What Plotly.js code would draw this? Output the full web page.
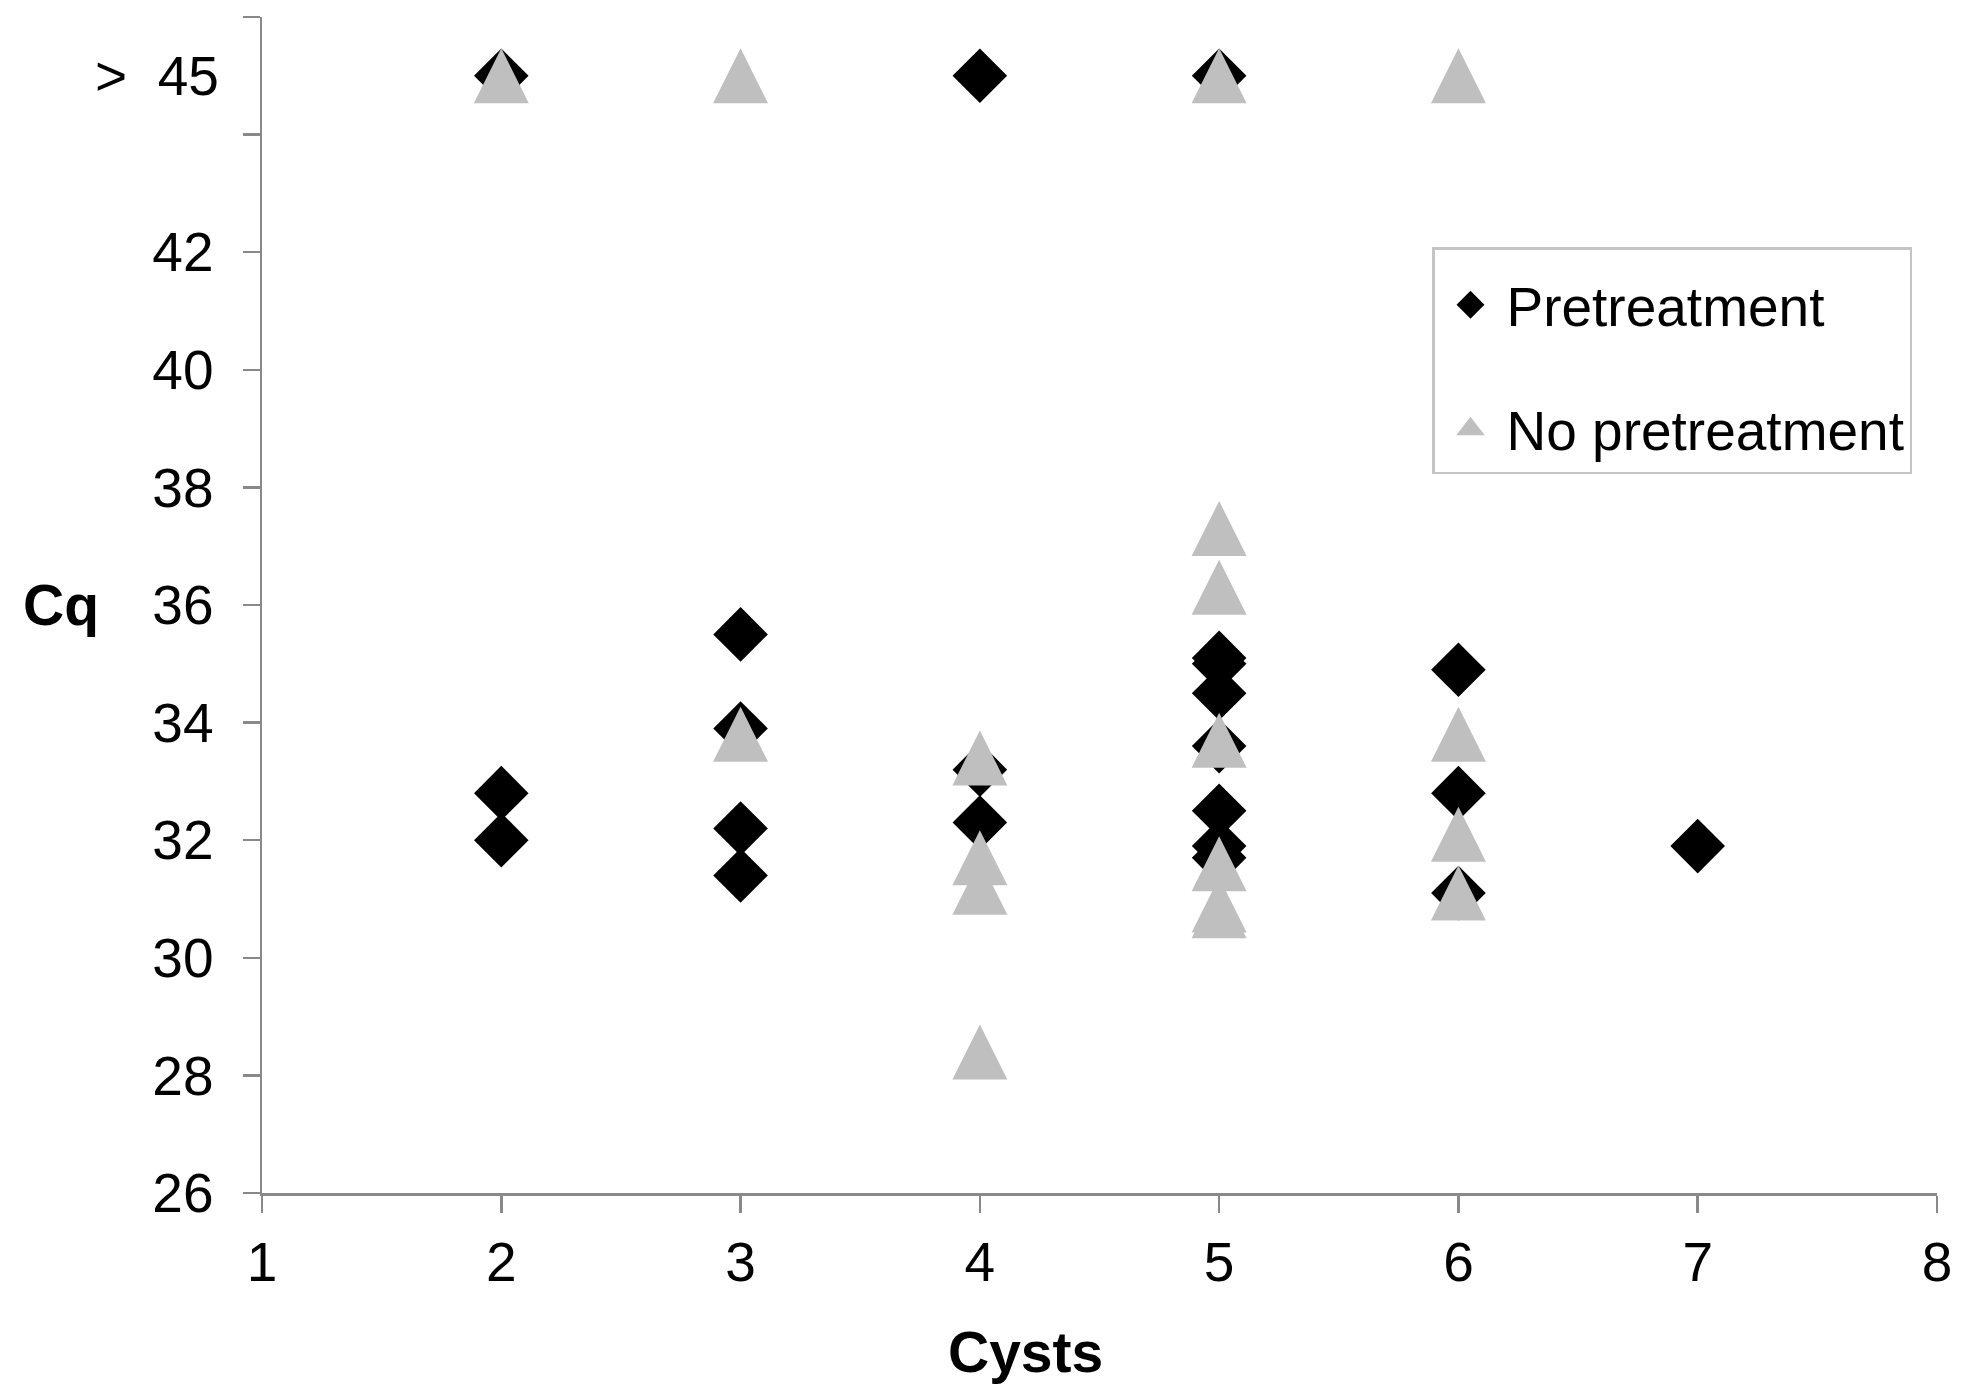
<!DOCTYPE html>
<html><head><meta charset="utf-8">
<script src="https://cdn.plot.ly/plotly-3.0.1.min.js"></script>
<style>html,body{margin:0;padding:0;background:#fff}#chart{width:1965px;height:1393px}</style>
</head><body><div id="chart"></div>
<script>
// ---- data ----
const seriesNames = ['Pretreatment', 'No pretreatment'];
const preX = [2, 2, 2, 3, 3, 3, 3, 4, 4, 4, 5, 5, 5, 5, 5, 5, 5, 5, 6, 6, 6, 7];
const preY = [45, 32.8, 32.0, 35.5, 33.9, 32.2, 31.4, 45, 33.2, 32.3, 45, 35.1, 35.0, 34.5, 33.6, 32.5, 31.9, 31.7, 34.9, 32.8, 31.1, 31.9];
const noX = [2, 3, 3, 4, 4, 4, 4, 5, 5, 5, 5, 5, 5, 5, 6, 6, 6, 6];
const noY = [45, 45, 33.8, 33.4, 31.7, 31.2, 28.4, 45, 37.3, 36.3, 33.7, 31.6, 30.9, 30.8, 45, 33.8, 32.1, 31.1];
const xTickVals = [1, 2, 3, 4, 5, 6, 7, 8];
const yTickVals = [26, 28, 30, 32, 34, 36, 38, 40, 42, 44, 46];
const yTickText = ['26', '28', '30', '32', '34', '36', '38', '40', '42', '', ''];
const topLabelValue = 45;
const topLabelText = '>\u00a0\u00a045';
const xTitle = 'Cysts';
const yTitle = 'Cq';

// ---- layout geometry ----
const W = 1965, H = 1393;
const M = {l: 262, r: 28, t: 17, b: 200};
const yRange = [26, 46];
const plotH = H - M.t - M.b;
const plotW = W - M.l - M.r;
const pxPerUnit = plotH / (yRange[1] - yRange[0]);
const diaSize = 42;
const triSize = 55;
// arrow-up symbol has its apex on the point; shift an overlay axis so the
// triangle's box is centred on the value
const shift = (triSize / 2) / pxPerUnit;

const FONT = 'Liberation Sans, Arial, Helvetica, sans-serif';
const AXC = '#898989';
const GRAY = '#bfbfbf';

const traces = [
  {x: preX, y: preY, type: 'scatter', mode: 'markers', name: seriesNames[0], showlegend: false,
   marker: {symbol: 'diamond', size: diaSize, color: '#000000', line: {width: 0}},
   xaxis: 'x', yaxis: 'y', hoverinfo: 'x+y'},
  {x: noX, y: noY, type: 'scatter', mode: 'markers', name: seriesNames[1], showlegend: false,
   marker: {symbol: 'arrow-up', size: triSize, color: GRAY, line: {width: 0}},
   xaxis: 'x', yaxis: 'y2', hoverinfo: 'x+y'},
  {x: [null], y: [null], type: 'scatter', mode: 'markers', name: seriesNames[0], legendgroup: 'a',
   marker: {symbol: 'diamond', size: 16, color: '#000000', line: {width: 5, color: '#000000'}}},
  {x: [null], y: [null], type: 'scatter', mode: 'markers', name: seriesNames[1], legendgroup: 'b',
   marker: {symbol: 'triangle-up', size: 16, color: GRAY, line: {width: 5, color: GRAY}}}
];

const layout = {
  width: W, height: H,
  margin: M,
  paper_bgcolor: '#ffffff', plot_bgcolor: '#ffffff',
  font: {family: FONT, size: 55, color: '#000000'},
  showlegend: true,
  xaxis: {
    range: [1, 8], tickmode: 'array', tickvals: xTickVals, ticktext: xTickVals.map(String),
    showgrid: false, zeroline: false, showline: true, linecolor: AXC, linewidth: 2.5,
    ticks: 'outside', ticklen: 17, tickwidth: 2.5, tickcolor: AXC,
    tickfont: {family: FONT, size: 55, color: '#000'}, ticklabelstandoff: 2, fixedrange: true
  },
  yaxis: {
    range: yRange, tickmode: 'array', tickvals: yTickVals, ticktext: yTickText,
    showgrid: false, zeroline: false, showline: true, linecolor: AXC, linewidth: 2.5,
    ticks: 'outside', ticklen: 17, tickwidth: 2.5, tickcolor: AXC,
    tickfont: {family: FONT, size: 55, color: '#000'}, ticklabelstandoff: 18, fixedrange: true
  },
  yaxis2: {
    overlaying: 'y', anchor: 'x', range: [yRange[0] - shift, yRange[1] - shift],
    visible: false, showgrid: false, zeroline: false, fixedrange: true
  },
  legend: {
    x: (1432 - M.l) / plotW, y: (M.t + plotH - 247) / plotH, xanchor: 'left', yanchor: 'top',
    bgcolor: '#ffffff', bordercolor: '#c4c4c4', borderwidth: 2.5,
    font: {family: FONT, size: 55, color: '#000'},
    title: {text: '\u00a0', font: {family: FONT, size: 10}},
    traceorder: 'grouped', tracegroupgap: 49.5, itemwidth: 62
  },
  annotations: [
    {text: topLabelText, xref: 'paper', yref: 'y', x: -41 / plotW, y: topLabelValue,
     xanchor: 'right', yanchor: 'middle', showarrow: false,
     font: {family: FONT, size: 55, color: '#000'}},
    {text: '<b>' + yTitle + '</b>', xref: 'paper', yref: 'y', x: (61 - M.l) / plotW, y: 36,
     xanchor: 'center', yanchor: 'middle', showarrow: false,
     font: {family: FONT, size: 57, color: '#000'}},
    {text: '<b>' + xTitle + '</b>', xref: 'x', yref: 'paper', x: 4.19, y: (1193 - 1352) / plotH,
     xanchor: 'center', yanchor: 'middle', showarrow: false,
     font: {family: FONT, size: 57, color: '#000'}}
  ]
};

Plotly.newPlot('chart', traces, layout, {displayModeBar: false, staticPlot: true});
</script></body></html>
